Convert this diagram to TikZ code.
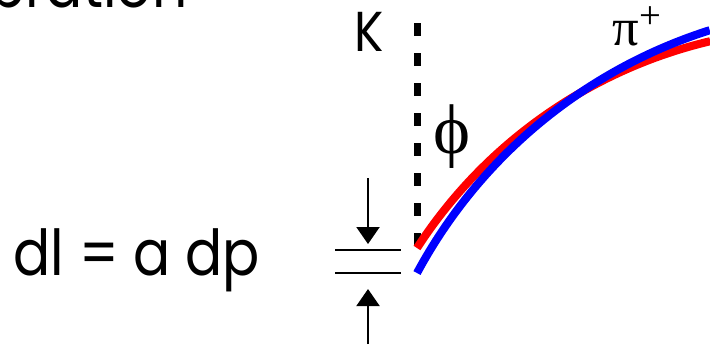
\documentclass[tikz,border=0pt]{standalone}
\usepackage{fontspec}
\setmainfont{Poppins}[FakeStretch=0.87]
\newfontfamily\greekfont{Liberation Serif}
\usetikzlibrary{arrows.meta}

\begin{document}
\begin{tikzpicture}[x=0.01cm,y=-0.01cm,
  track/.style={line width=2.3pt},
  gap/.style={line width=0.6pt,-{Triangle[length=1.7mm,width=2.3mm]}}]
  \useasboundingbox (0,0) rectangle (710,344);
  \node[anchor=base east,inner sep=0pt,font=\fontsize{18}{22}\selectfont] (title) at (188,7) {bration};
  \node[inner sep=0pt,font=\fontsize{16}{18}\selectfont] (kaon) at (369,32) {K};
  \coordinate (ktop) at (417,23);
  \coordinate (kend) at (417,248);
  \draw[line width=0.7mm,dash pattern=on 1.3mm off 1.7mm] (ktop) -- (kend);
  \node[inner sep=0pt,font=\greekfont\fontsize{20}{24}\selectfont] (phi) at (452,137) {ϕ};
  \node[anchor=base west,inner sep=0pt,font=\greekfont\fontsize{15}{16}\selectfont] (pion) at (612,45) {π\raisebox{0.7ex}{\fontsize{11}{12}\selectfont+}};
  \coordinate (redstart) at (417,248);
  \coordinate (bluestart) at (417,273);
  \draw[track,red] (redstart) arc[start angle=-147.1,end angle=-103.3,radius=481];
  \draw[track,blue] (bluestart) arc[start angle=-151.75,end angle=-107.6,radius=506];
  \node[anchor=base west,inner sep=0pt,font=\fontsize{18}{22}\selectfont] (law) at (13,275) {dl = a dp};
  \coordinate (lowa) at (335,250);
  \coordinate (lowb) at (401,250);
  \coordinate (higha) at (335,273);
  \coordinate (highb) at (401,273);
  \draw[line width=0.6pt] (lowa) -- (lowb);
  \draw[line width=0.6pt] (higha) -- (highb);
  \coordinate (downstart) at (368,178);
  \coordinate (downtip) at (368,244);
  \coordinate (upstart) at (368,344);
  \coordinate (uptip) at (368,289);
  \draw[gap] (downstart) -- (downtip);
  \draw[gap] (upstart) -- (uptip);
\end{tikzpicture}
\end{document}
